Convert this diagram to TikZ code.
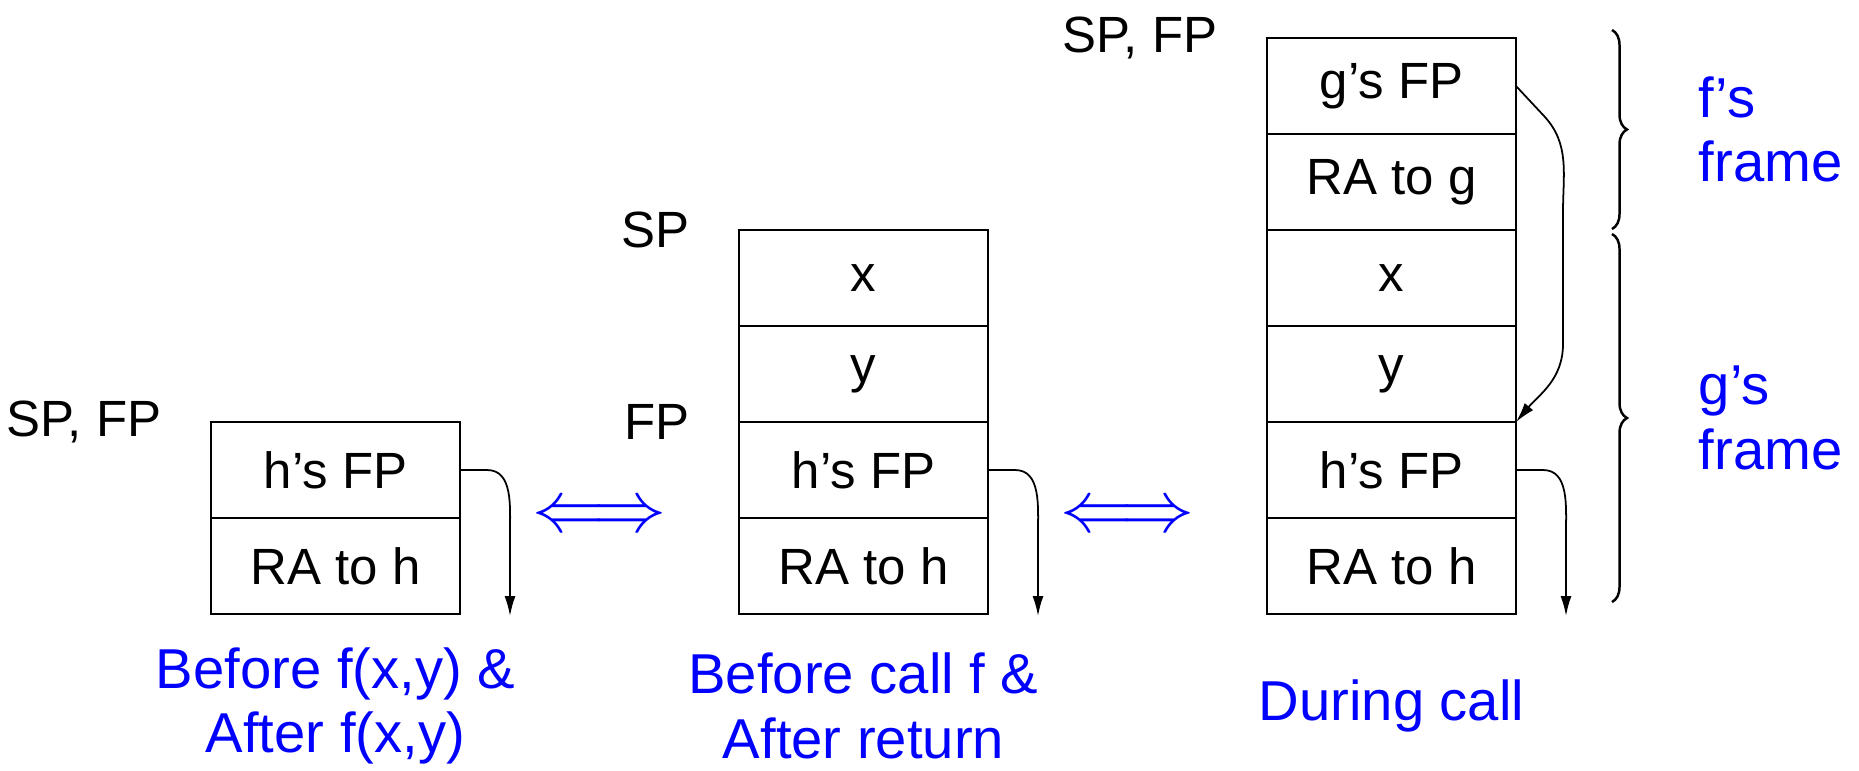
\documentclass[tikz,border=0pt]{standalone}
\usepackage{fontspec}
\setmainfont{Liberation Sans}
\usetikzlibrary{positioning,calc,arrows.meta,decorations.pathreplacing}

\begin{document}
\begin{tikzpicture}[
cell/.style={draw,line width=0.6pt,minimum width=2.49cm,minimum height=0.96cm,inner sep=0pt,outer sep=0pt,font=\fontsize{14.5}{17}\selectfont},
reg/.style={font=\fontsize{14.5}{17}\selectfont,inner sep=0pt},
note/.style={blue,align=center,font=\fontsize{16}{18.4}\selectfont},
link/.style={line width=0.5pt,-{Latex[length=0.2cm,width=0.11cm]}},
eqv/.style={blue,font=\fontsize{20}{20}\selectfont},
frm/.style={decorate,decoration={brace,amplitude=0.15cm},line width=0.7pt}]
\useasboundingbox (0,0) rectangle (18.59,7.70);
% before f(x,y) / after f(x,y)
\node[cell] (lhfp) at (3.355,3.00) {h's FP};
\node[cell,below=0pt of lhfp] (lrah) {RA to h};
\node[reg,left=0.49cm of lhfp.north west] (lsp) {SP, FP};
\node[note] (lnote) at ([yshift=-0.92cm]lrah.south) {Before f(x,y) \&\\After f(x,y)};
% before call f / after return
\node[cell] (mx) at (8.635,4.92) {x};
\node[cell,below=0pt of mx] (my) {y};
\node[cell,below=0pt of my] (mhfp) {h's FP};
\node[cell,below=0pt of mhfp] (mrah) {RA to h};
\node[reg,left=0.49cm of mx.north west] (msp) {SP};
\node[reg,left=0.49cm of mhfp.north west] (mfp) {FP};
\node[note] (mnote) at ([yshift=-0.92cm]mrah.south) {Before call f \&\\After return};
% during call
\node[cell] (rgfp) at (13.915,6.84) {g's FP};
\node[cell,below=0pt of rgfp] (rrag) {RA to g};
\node[cell,below=0pt of rrag] (rx) {x};
\node[cell,below=0pt of rx] (ry) {y};
\node[cell,below=0pt of ry] (rhfp) {h's FP};
\node[cell,below=0pt of rhfp] (rrah) {RA to h};
\node[reg,left=0.49cm of rgfp.north west] (rsp) {SP, FP};
\node[note] (rnote) at ([yshift=-0.92cm]rrah.south) {During call};

\node[eqv] (eq1) at ($(lhfp.south east)!0.5!(mhfp.south west)$) {$\Longleftrightarrow$};
\node[eqv] (eq2) at ($(mhfp.south east)!0.5!(rhfp.south west)$) {$\Longleftrightarrow$};

\coordinate (lend) at ([xshift=0.5cm,yshift=-0.02cm]lrah.south east);
\coordinate (mend) at ([xshift=0.5cm,yshift=-0.02cm]mrah.south east);
\coordinate (rend) at ([xshift=0.5cm,yshift=-0.02cm]rrah.south east);
\draw[link] (lhfp.east) -- ++(0.27,0) to[out=0,in=90] ++(0.23,-0.63) -- (lend);
\draw[link] (mhfp.east) -- ++(0.27,0) to[out=0,in=90] ++(0.23,-0.63) -- (mend);
\draw[link] (rhfp.east) -- ++(0.27,0) to[out=0,in=90] ++(0.23,-0.63) -- (rend);
\draw[link] (rgfp.east) -- ++(0.28,-0.3) to[out=-47,in=90] ($(rrag.east)+(0.47,-0.3)$)
  -- ($(ry.east)+(0.47,0.3)$) to[out=-90,in=50] (ry.south east);

\coordinate (ftop) at ([xshift=0.96cm,yshift=0.08cm]rgfp.north east);
\coordinate (fbot) at ([xshift=0.96cm,yshift=0.01cm]rrag.south east);
\coordinate (gtop) at ([xshift=0.96cm,yshift=-0.04cm]rrag.south east);
\coordinate (gbot) at ([xshift=0.96cm,yshift=0.12cm]rrah.south east);
\draw[frm] (ftop) -- (fbot) node[note,midway,anchor=west,align=left,xshift=0.74cm] (flbl) {f's\\frame};
\draw[frm] (gtop) -- (gbot) node[note,midway,anchor=west,align=left,xshift=0.74cm] (glbl) {g's\\frame};
\end{tikzpicture}
\end{document}
